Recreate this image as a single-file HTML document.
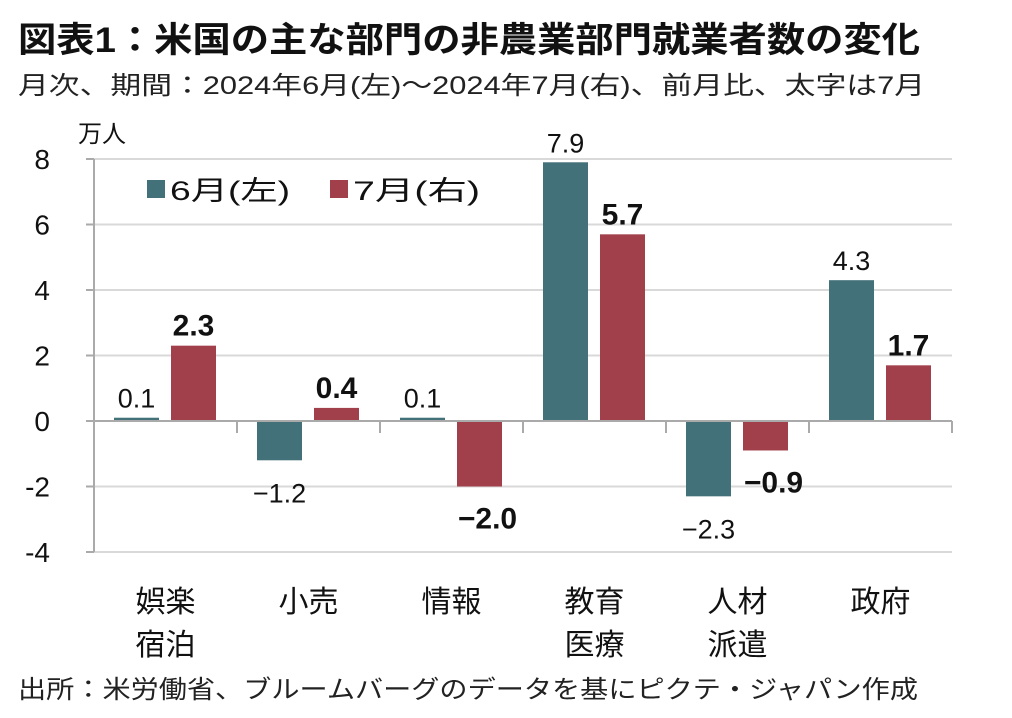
<!DOCTYPE html>
<html><head><meta charset="utf-8">
<style>
body{margin:0;background:#fff;width:1012px;height:713px;overflow:hidden;font-family:"Liberation Sans","Noto Sans CJK JP",sans-serif;}
</style></head>
<body>
<svg width="1012" height="713" xmlns="http://www.w3.org/2000/svg" font-family="Liberation Sans, Noto Sans CJK JP, sans-serif">
<text x="18" y="52" font-size="35" font-weight="bold" fill="#111" textLength="902" lengthAdjust="spacingAndGlyphs">図表1：米国の主な部門の非農業部門就業者数の変化</text>
<text x="18" y="94" font-size="25" fill="#222" textLength="907" lengthAdjust="spacingAndGlyphs">月次、期間：2024年6月(左)～2024年7月(右)、前月比、太字は7月</text>
<text x="78" y="142" font-size="24" fill="#111">万人</text>
<g id="grid"></g>
<g id="bars"></g>
<g id="axes"></g>
<g>
<rect x="147" y="180" width="18" height="18" fill="#43717A"/>
<text x="170" y="200" font-size="27" fill="#111" textLength="120" lengthAdjust="spacingAndGlyphs">6月(左)</text>
<rect x="330" y="180" width="18" height="18" fill="#A1404A"/>
<text x="353" y="200" font-size="27" fill="#111" textLength="127" lengthAdjust="spacingAndGlyphs">7月(右)</text>
</g>
<text x="18" y="698" font-size="25" fill="#222" textLength="900" lengthAdjust="spacingAndGlyphs">出所：米労働省、ブルームバーグのデータを基にピクテ・ジャパン作成</text>
</svg>
<script>
const categories=[["娯楽","宿泊"],["小売"],["情報"],["教育","医療"],["人材","派遣"],["政府"]];
const june=[0.1,-1.2,0.1,7.9,-2.3,4.3];
const july=[2.3,0.4,-2.0,5.7,-0.9,1.7];
const yTicks=[8,6,4,2,0,-2,-4];
const NS="http://www.w3.org/2000/svg";
const x0=94,catW=143,y0=421,unit=32.75;
const y=v=>y0-v*unit;
function mk(tag,attrs,parent,text){const e=document.createElementNS(NS,tag);for(const k in attrs)e.setAttribute(k,attrs[k]);if(text!==undefined)e.textContent=text;document.getElementById(parent).appendChild(e);return e;}
yTicks.forEach(t=>{
  if(t!==0){const g=mk('line',{x1:x0,x2:952,y1:y(t),y2:y(t),stroke:'#d9d9d9','stroke-width':2},'grid');
  
  }
  const tk=mk('line',{x1:x0-8,x2:x0,y1:y(t),y2:y(t),stroke:'#aaa','stroke-width':2},'axes');
  
  
  const l=mk('text',{x:50,y:y(t)+10,'font-size':28,'text-anchor':'end',fill:'#111'},'axes',String(t));
  
  
});
const ya=mk('line',{x1:x0,x2:x0,y1:y(8),y2:y(-4),stroke:'#aaa','stroke-width':2},'axes');


const xa=mk('line',{x1:x0,x2:952,y1:y0,y2:y0,stroke:'#aaa','stroke-width':2},'axes');


for(let i=0;i<=categories.length;i++){const t=mk('line',{x1:x0+i*catW,x2:x0+i*catW,y1:y0,y2:y0+12,stroke:'#aaa','stroke-width':2},'axes');

}
function fmt(v){return (v<0?'−':'')+Math.abs(v).toFixed(1);}
categories.forEach((c,i)=>{
  const cx=x0+i*catW;
  [[june[i],20,'#43717A',false],[july[i],77,'#A1404A',true]].forEach(([v,off,col,bold])=>{
    const r=mk('rect',{x:cx+off,y:Math.min(y(v),y0),width:45,height:Math.max(Math.abs(v)*unit,1.5),fill:col},'bars');
    
    
    const ly=v>=0?y(v)-10:y(v)+42;
    const lbl=mk('text',{x:cx+off+22.5+(v<0&&bold?8:0),y:ly,'font-size':bold?30:27,'font-weight':bold?'bold':'normal','text-anchor':'middle',fill:'#111'},'bars',fmt(v));
    
    
  });
  c.forEach((s,j)=>{const t=mk('text',{x:cx+catW/2,y:612+j*43,'font-size':30,'text-anchor':'middle',fill:'#111'},'axes',s);
  
  });
});
</script>
</body></html>
